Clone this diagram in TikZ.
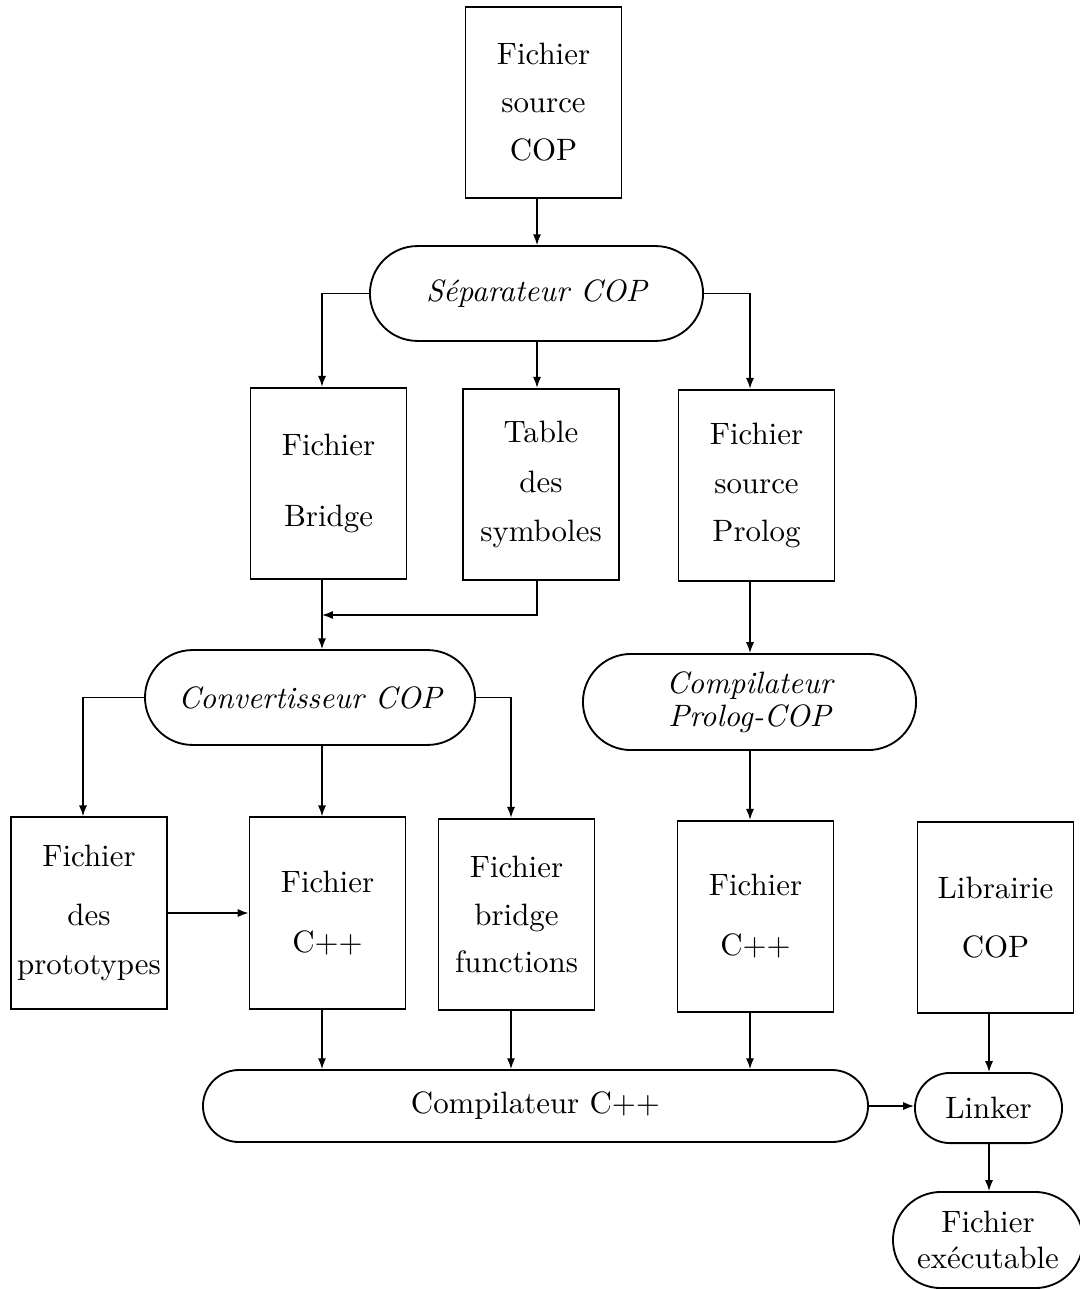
\documentclass[tikz,border=0pt]{standalone}
\usepackage{fontspec}
\usetikzlibrary{arrows.meta,shapes.misc,calc}
\tikzset{fichier/.style={
            draw,
            line width=0.6pt,
            inner sep=0pt,
            minimum width=50.5pt,
            minimum height=62pt,
            align=center
        },
        outil/.style={
            draw,
            rounded rectangle,
            line width=0.6pt,
            inner sep=0pt,
            minimum width=107.8pt,
            minimum height=30.7pt,
            align=center,
            font=\itshape
        },
        fleche/.style={
            line width=0.45pt,
            -{Latex[length=3.5pt,width=2.6pt]}
        }
    }

\begin{document}
\begin{tikzpicture}[x=0.3236pt,y=-0.3236pt]
        \useasboundingbox (0,0) rectangle (1079,1289);

        % colonnes des connecteurs
        \coordinate (colA) at (322,0);
        \coordinate (colB) at (537,0);
        \coordinate (colC) at (750,0);
        \coordinate (colD) at (83,0);
        \coordinate (colE) at (511,0);
        \coordinate (colF) at (989,0);
        \coordinate (jonction) at (322,615);

        \node[fichier] at (543.5,102.5) (src) {Fichier\\[3.5pt]source\\[3.5pt]COP};
        \node[outil] at (536.5,293.5) (sep) {S\'eparateur COP};

        \node[fichier] at (328.5,483.5) (bridge) {Fichier\\[11pt]Bridge};
        \node[fichier] at (541,484.5) (table) {Table\\[4pt]des\\[4pt]symboles};
        \node[fichier] at (756.5,485.5) (prolog) {Fichier\\[3.8pt]source\\[3.8pt]Prolog};

        \node[outil,minimum width=106.8pt] at (310,697.5) (conv) {Convertisseur COP};
        \node[outil,minimum height=31.1pt] at (749.5,702) (cprolog) {Compilateur\\[-1.3pt]Prolog-COP};

        \node[fichier] at (89,913) (proto) {Fichier\\[7pt]des\\[4pt]prototypes};
        \node[fichier] at (327.5,913) (cpp) {Fichier\\[7.7pt]C++};
        \node[fichier] at (516.5,914.5) (bfn) {Fichier\\[3.4pt]bridge\\[3.4pt]functions};
        \node[fichier] at (755.5,916.5) (cppdeux) {Fichier\\[7.4pt]C++};
        \node[fichier] at (995.5,917.5) (lib) {Librairie\\[7pt]COP};

        \node[outil,font=\normalfont,minimum width=215.2pt,minimum height=23.3pt] at (535.5,1106) (ccpp) {Compilateur C++};
        \node[outil,font=\normalfont,minimum width=47.6pt,minimum height=22.7pt] at (988.5,1108) (linker) {Linker};
        \node[outil,font=\normalfont,minimum width=61.5pt,minimum height=31.1pt] at (988,1240) (exe) {Fichier\\[-0.4pt]ex\'ecutable};

        \draw[fleche] (colB |- src.south) -- (colB |- sep.north);
        \draw[fleche] (sep.west) -| (colA |- bridge.north);
        \draw[fleche] (colB |- sep.south) -- (colB |- table.north);
        \draw[fleche] (sep.east) -| (colC |- prolog.north);

        \draw[fleche] (colA |- bridge.south) -- (colA |- conv.north);
        \draw[fleche] (colB |- table.south) |- (jonction);
        \draw[fleche] (colC |- prolog.south) -- (colC |- cprolog.north);

        \draw[fleche] (conv.west) -| (colD |- proto.north);
        \draw[fleche] (colA |- conv.south) -- (colA |- cpp.north);
        \draw[fleche] (conv.east) -| (colE |- bfn.north);
        \draw[fleche] (colC |- cprolog.south) -- (colC |- cppdeux.north);
        \draw[fleche] (proto.east) -- (proto.east -| cpp.west);

        \draw[fleche] (colA |- cpp.south) -- (colA |- ccpp.north);
        \draw[fleche] (colE |- bfn.south) -- (colE |- ccpp.north);
        \draw[fleche] (colC |- cppdeux.south) -- (colC |- ccpp.north);
        \draw[fleche] (ccpp.east) -- (ccpp.east -| linker.west);
        \draw[fleche] (colF |- lib.south) -- (colF |- linker.north);
        \draw[fleche] (colF |- linker.south) -- (colF |- exe.north);

    \end{tikzpicture}
\end{document}
